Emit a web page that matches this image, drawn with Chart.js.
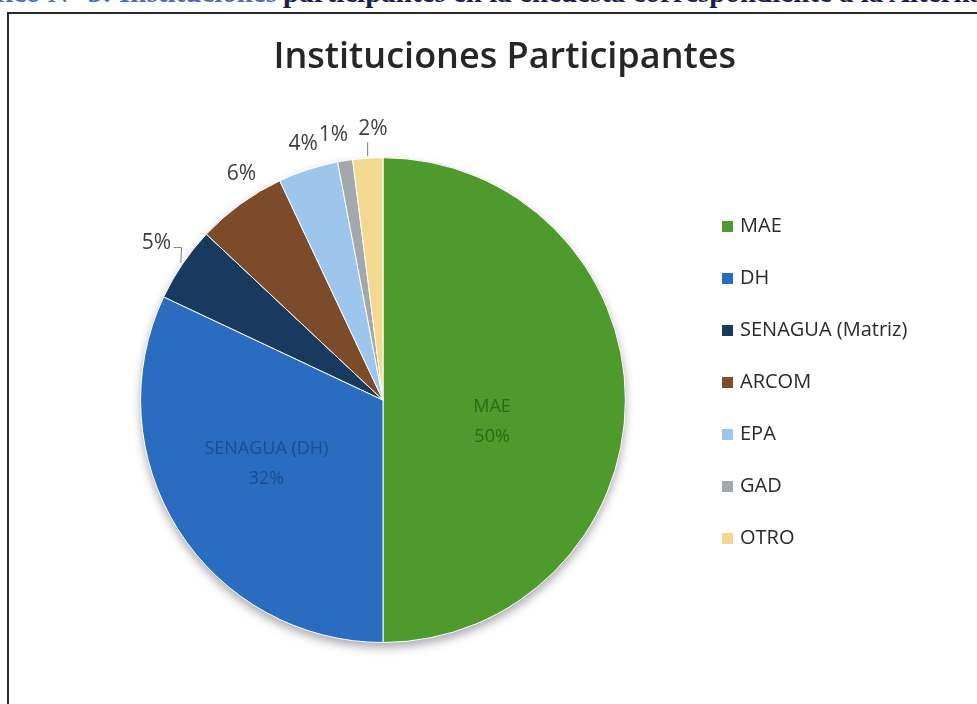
<!DOCTYPE html>
<html>
<head>
<meta charset="utf-8">
<script src="https://cdn.jsdelivr.net/npm/chart.js@4/dist/chart.umd.min.js"></script>
<style>
  html, body { margin: 0; padding: 0; background: #fff; overflow: hidden; }
  body { width: 977px; height: 704px; position: relative; }
  .caption { position: absolute; top: -22px; font: bold 29px "Liberation Serif", serif; line-height: 1; white-space: nowrap; color: #1a1f4f; }
  .caption.izq { right: 700px; color: #4a6cc0; }
  .caption.der { left: 283px; }
  .marco { position: absolute; left: 7px; top: 12px; width: 1000px; height: 720px; border: 2px solid #2a2a2a; border-right: none; border-bottom: none; background: #fff; }
  #wrap { position: absolute; left: 0; top: 0; width: 977px; height: 704px; }
</style>
</head>
<body>
<div class="caption izq">Gráfico N° 3: Instituciones</div>
<div class="caption der">participantes en la encuesta correspondiente a la Alternativa</div>
<div class="marco"></div>
<div id="wrap"><canvas id="institucionesChart"></canvas></div>
<script>
// Datos del gráfico
const instituciones = ['MAE', 'DH', 'SENAGUA (Matriz)', 'ARCOM', 'EPA', 'GAD', 'OTRO'];
const etiquetasSector = ['MAE', 'SENAGUA (DH)', 'SENAGUA (Matriz)', 'ARCOM', 'EPA', 'GAD', 'OTRO'];
const porcentajes = [50, 32, 5, 6, 4, 1, 2];

const colores = ['#4e9a2c', '#2a6cc0', '#173a5e', '#7b4b2a', '#9ec5ec', '#a3a8ad', '#f3d98f'];
const coloresTextoInterno = ['#2c6a19', '#1c4d8e'];
// ajuste fino de la posición de cada etiqueta (px), como hace Excel con "mejor ajuste"
const ajusteEtiquetas = [[0, 22], [-2, -9], [-2, -5], [18, -7], [4, 2], [-7, 3], [7, 0]];

// Sombra suave bajo la torta
const sombraTorta = {
    id: 'sombraTorta',
    beforeDatasetsDraw(chart) {
        const arc = chart.getDatasetMeta(0).data[0];
        if (!arc) return;
        const ctx = chart.ctx;
        ctx.save();
        ctx.shadowColor = 'rgba(40,40,60,0.4)';
        ctx.shadowBlur = 10;
        ctx.shadowOffsetY = 5;
        ctx.fillStyle = '#ffffff';
        ctx.beginPath();
        ctx.arc(arc.x, arc.y, arc.outerRadius, 0, Math.PI * 2);
        ctx.fill();
        ctx.restore();
    }
};

// Etiquetas de porcentaje (dentro y fuera)
const etiquetasTorta = {
    id: 'etiquetasTorta',
    afterDatasetsDraw(chart) {
        const ctx = chart.ctx;
        const meta = chart.getDatasetMeta(0);
        ctx.save();
        ctx.textAlign = 'center';
        ctx.textBaseline = 'middle';
        meta.data.forEach(function(arc, i) {
            const p = arc.getProps(['x', 'y', 'startAngle', 'endAngle', 'outerRadius']);
            const medio = (p.startAngle + p.endAngle) / 2;
            const cos = Math.cos(medio), sin = Math.sin(medio);
            const texto = porcentajes[i] + '%';
            const dx = ajusteEtiquetas[i][0], dy = ajusteEtiquetas[i][1];
            if (i < 2) {
                const r = p.outerRadius * (i === 0 ? 0.45 : 0.56);
                const x = p.x + cos * r + dx, y = p.y + sin * r + dy;
                ctx.font = '18px "Open Sans", sans-serif';
                ctx.fillStyle = coloresTextoInterno[i];
                ctx.fillText(etiquetasSector[i], x, y - 15);
                ctx.fillText(texto, x, y + 15);
            } else {
                const r = p.outerRadius + 29;
                const x = p.x + cos * r + dx, y = p.y + sin * r + dy;
                ctx.font = '21px "Open Sans", sans-serif';
                ctx.fillStyle = '#404040';
                ctx.fillText(texto, x, y);
                const fx = p.x + cos * (p.outerRadius + 2), fy = p.y + sin * (p.outerRadius + 2);
                ctx.strokeStyle = '#7f7f7f';
                ctx.lineWidth = 1;
                if (i === 2) {
                    ctx.beginPath();
                    ctx.moveTo(x + 17, y + 5);
                    ctx.lineTo(x + 25, y + 5);
                    ctx.lineTo(fx, fy);
                    ctx.stroke();
                } else if (i === 6) {
                    ctx.beginPath();
                    ctx.moveTo(fx, y + 13);
                    ctx.lineTo(fx, fy);
                    ctx.stroke();
                }
            }
        });
        ctx.restore();
    }
};

// Leyenda a la derecha
const leyendaDerecha = {
    id: 'leyendaDerecha',
    afterDraw(chart) {
        const ctx = chart.ctx;
        ctx.save();
        ctx.font = '20px "Open Sans", sans-serif';
        ctx.textBaseline = 'middle';
        ctx.textAlign = 'left';
        chart.data.labels.forEach(function(nombre, i) {
            const y = 226 + i * 52;
            ctx.fillStyle = colores[i];
            ctx.fillRect(722, y - 5, 11, 11);
            ctx.fillStyle = '#2a2a2a';
            ctx.fillText(nombre, 740, y);
        });
        ctx.restore();
    }
};

document.addEventListener('DOMContentLoaded', function() {
    const ctxInst = document.getElementById('institucionesChart').getContext('2d');
    new Chart(ctxInst, {
        type: 'pie',
        data: {
            labels: instituciones,
            datasets: [{
                data: porcentajes,
                backgroundColor: colores,
                borderColor: '#ffffff',
                borderWidth: 1,
                hoverOffset: 0
            }]
        },
        options: {
            responsive: true,
            maintainAspectRatio: false,
            animation: false,
            layout: {
                padding: { left: 30, right: 241, top: 0, bottom: 61 }
            },
            plugins: {
                legend: { display: false },
                tooltip: { enabled: false },
                title: {
                    display: true,
                    text: 'Instituciones Participantes',
                    align: 'end',
                    color: '#262626',
                    font: { family: '"Open Sans", sans-serif', size: 36, weight: '600' },
                    padding: { top: 36, bottom: 78 }
                }
            }
        },
        plugins: [sombraTorta, etiquetasTorta, leyendaDerecha]
    });
});
</script>
</body>
</html>
